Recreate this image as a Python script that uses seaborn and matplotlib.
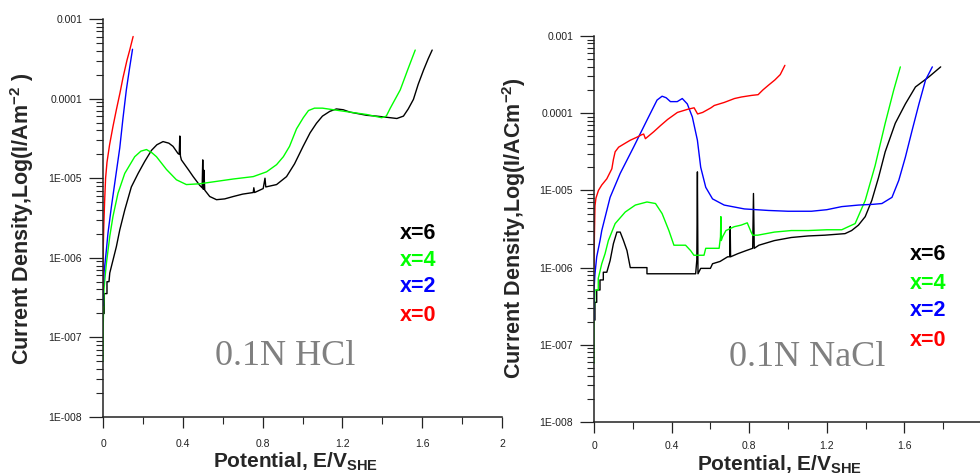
import numpy as np
import pandas as pd
import matplotlib
matplotlib.use("Agg")
import matplotlib.pyplot as plt
import seaborn as sns
from matplotlib.ticker import FixedLocator, LogLocator, NullFormatter

# ---------------- data (potential E in V_SHE, log10 of current density) -------------
# 0.1N HCl
hcl_x0_e = [0.000, 0.001, 0.004, 0.008, 0.013, 0.020, 0.033, 0.050, 0.067, 0.085, 0.100, 0.120, 0.134, 0.151]
hcl_x0_log = [-6.40, -5.90, -5.60, -5.30, -5.00, -4.80, -4.58, -4.35, -4.14, -3.93, -3.74, -3.52, -3.39, -3.22]

hcl_x2_e = [0.000, 0.000, 0.005, 0.017, 0.025, 0.042, 0.059, 0.084, 0.100, 0.117, 0.133, 0.148]
hcl_x2_log = [-6.60, -6.45, -6.19, -5.90, -5.69, -5.36, -5.06, -4.62, -4.25, -3.89, -3.62, -3.38]

hcl_x4_e = [0.000, 0.001, 0.003, 0.005, 0.010, 0.017, 0.034, 0.050, 0.075, 0.109,
            0.159, 0.190, 0.218, 0.245, 0.268, 0.318, 0.368, 0.418, 0.485, 0.569,
            0.653, 0.753, 0.820, 0.870, 0.904, 0.935, 0.970, 1.004, 1.030, 1.060,
            1.100, 1.155, 1.238, 1.322, 1.397, 1.420, 1.440, 1.490, 1.530, 1.565]
hcl_x4_log = [-7.30, -6.90, -6.60, -6.40, -6.25, -6.07, -5.73, -5.48, -5.19, -4.94,
              -4.73, -4.66, -4.64, -4.68, -4.73, -4.89, -5.02, -5.08, -5.07, -5.04,
              -5.01, -4.98, -4.92, -4.83, -4.73, -4.60, -4.38, -4.24, -4.15, -4.12,
              -4.12, -4.14, -4.17, -4.20, -4.24, -4.22, -4.12, -3.89, -3.62, -3.39]

hcl_x6_e = [0.000, 0.006, 0.006, 0.020, 0.020, 0.030, 0.034, 0.050, 0.067, 0.084,
            0.109, 0.142, 0.176, 0.209, 0.243, 0.270, 0.301, 0.330, 0.351, 0.376,
            0.382, 0.385, 0.388, 0.393, 0.430, 0.452, 0.485, 0.497, 0.500, 0.503,
            0.506, 0.510, 0.535, 0.569, 0.610, 0.653, 0.700, 0.753, 0.756, 0.760,
            0.803, 0.812, 0.816, 0.870, 0.920, 0.960, 1.003, 1.038, 1.070, 1.100,
            1.137, 1.170, 1.204, 1.238, 1.280, 1.322, 1.370, 1.406, 1.440, 1.473,
            1.506, 1.530, 1.556, 1.580, 1.607, 1.630, 1.650]
hcl_x6_log = [-6.70, -6.70, -6.45, -6.45, -6.30, -6.30, -6.19, -6.03, -5.86, -5.65,
              -5.40, -5.11, -4.94, -4.79, -4.65, -4.58, -4.54, -4.56, -4.60, -4.69,
              -4.70, -4.47, -4.72, -4.77, -4.90, -4.98, -5.09, -5.12, -4.77, -5.14,
              -4.90, -5.15, -5.23, -5.27, -5.26, -5.23, -5.20, -5.18, -5.12, -5.18,
              -5.13, -5.00, -5.11, -5.08, -4.98, -4.82, -4.60, -4.43, -4.31, -4.22,
              -4.16, -4.13, -4.14, -4.17, -4.19, -4.21, -4.22, -4.23, -4.24, -4.25,
              -4.22, -4.13, -4.01, -3.82, -3.64, -3.50, -3.39]

# 0.1N NaCl
nacl_x0_e = [0.000, 0.002, 0.005, 0.010, 0.023, 0.040, 0.066, 0.092, 0.100, 0.109,
             0.127, 0.160, 0.187, 0.222, 0.245, 0.256, 0.265, 0.308, 0.343, 0.380,
             0.430, 0.482, 0.516, 0.534, 0.560, 0.603, 0.620, 0.672, 0.724, 0.760,
             0.811, 0.846, 0.870, 0.898, 0.932, 0.960, 0.984]
nacl_x0_log = [-6.00, -5.60, -5.20, -5.10, -5.00, -4.93, -4.85, -4.72, -4.60, -4.50,
               -4.44, -4.39, -4.35, -4.31, -4.28, -4.27, -4.33, -4.24, -4.16, -4.08,
               -3.99, -3.95, -3.93, -4.01, -3.99, -3.93, -3.90, -3.86, -3.81, -3.79,
               -3.77, -3.76, -3.70, -3.64, -3.57, -3.50, -3.38]

nacl_x2_e = [0.000, 0.000, 0.005, 0.014, 0.031, 0.040, 0.057, 0.083, 0.135, 0.204,
             0.273, 0.325, 0.351, 0.372, 0.394, 0.429, 0.455, 0.481, 0.507, 0.533,
             0.550, 0.576, 0.611, 0.671, 0.775, 0.900, 1.000, 1.121, 1.200, 1.277,
             1.363, 1.440, 1.484, 1.536, 1.571, 1.605, 1.640, 1.675, 1.709, 1.744]
nacl_x2_log = [-6.68, -6.29, -6.08, -5.86, -5.65, -5.52, -5.35, -5.09, -4.78, -4.44,
               -4.09, -3.83, -3.78, -3.80, -3.85, -3.85, -3.81, -3.88, -4.05, -4.35,
               -4.70, -4.96, -5.11, -5.19, -5.24, -5.26, -5.27, -5.27, -5.25, -5.21,
               -5.19, -5.18, -5.17, -5.09, -4.87, -4.57, -4.22, -3.88, -3.57, -3.40]

nacl_x4_e = [0.000, 0.000, 0.005, 0.022, 0.022, 0.040, 0.057, 0.074, 0.109, 0.161,
             0.213, 0.273, 0.317, 0.351, 0.386, 0.412, 0.472, 0.498, 0.515, 0.567,
             0.576, 0.645, 0.652, 0.654, 0.656, 0.663, 0.680, 0.723, 0.758, 0.790,
             0.810, 0.818, 0.844, 0.930, 1.017, 1.104, 1.200, 1.277, 1.311, 1.346,
             1.398, 1.449, 1.501, 1.545, 1.579]
nacl_x4_log = [-7.24, -6.68, -6.29, -6.29, -6.14, -5.95, -5.82, -5.65, -5.43, -5.28,
               -5.19, -5.15, -5.17, -5.30, -5.52, -5.71, -5.71, -5.78, -5.84, -5.84,
               -5.75, -5.75, -5.60, -5.34, -5.65, -5.60, -5.52, -5.47, -5.45, -5.42,
               -5.54, -5.58, -5.58, -5.54, -5.52, -5.52, -5.51, -5.51, -5.47, -5.43,
               -5.13, -4.68, -4.13, -3.70, -3.40]

nacl_x6_e = [0.000, 0.005, 0.005, 0.014, 0.014, 0.031, 0.031, 0.048, 0.048, 0.066,
             0.083, 0.100, 0.118, 0.135, 0.152, 0.170, 0.187, 0.273, 0.273, 0.524,
             0.530, 0.533, 0.536, 0.550, 0.600, 0.611, 0.650, 0.689, 0.700, 0.702,
             0.704, 0.741, 0.784, 0.818, 0.822, 0.826, 0.850, 0.930, 1.017, 1.104,
             1.190, 1.294, 1.328, 1.363, 1.398, 1.432, 1.467, 1.501, 1.553, 1.605,
             1.657, 1.726, 1.787]
nacl_x6_log = [-6.68, -6.68, -6.45, -6.45, -6.29, -6.29, -6.16, -6.16, -6.06, -6.06,
               -5.91, -5.69, -5.54, -5.54, -5.65, -5.78, -6.00, -6.00, -6.08, -6.08,
               -5.90, -4.76, -6.08, -6.01, -6.01, -5.95, -5.92, -5.86, -5.86, -5.47,
               -5.86, -5.82, -5.78, -5.75, -5.04, -5.75, -5.71, -5.65, -5.61, -5.59,
               -5.58, -5.56, -5.52, -5.45, -5.34, -5.13, -4.83, -4.50, -4.13, -3.88,
               -3.66, -3.53, -3.40]

series_labels = ["x=6", "x=4", "x=2", "x=0"]
series_colors = ["#000000", "#00ff00", "#0000ff", "#ff0000"]
x_ticks = [0, 0.4, 0.8, 1.2, 1.6, 2.0]
x_tick_labels = ["0", "0.4", "0.8", "1.2", "1.6", "2"]
y_ticks = [1e-8, 1e-7, 1e-6, 1e-5, 1e-4, 1e-3]
y_tick_labels = ["1E-008", "1E-007", "1E-006", "1E-005", "0.0001", "0.001"]

# ---------------- style --------------------------------------------------------------
sns.set_style("ticks")
plt.rcParams['font.family'] = ['Liberation Sans', 'DejaVu Sans']
plt.rcParams['mathtext.fontset'] = 'custom'
plt.rcParams['mathtext.rm'] = 'Liberation Sans'
plt.rcParams['mathtext.bf'] = 'Liberation Sans:bold'
plt.rcParams['mathtext.it'] = 'Liberation Sans:italic'

W, H = 980, 475
fig = plt.figure(figsize=(W / 100, H / 100), dpi=100)
fig.patch.set_facecolor("white")


def px_axes(x0, y0, x1, y1):
    return fig.add_axes([x0 / W, 1 - y1 / H, (x1 - x0) / W, (y1 - y0) / H])


panels = [
    dict(rect=(103, 19, 502, 417), xpad=8,
         data=[(hcl_x6_e, hcl_x6_log), (hcl_x4_e, hcl_x4_log), (hcl_x2_e, hcl_x2_log), (hcl_x0_e, hcl_x0_log)],
         ylabel=r"Current Density,Log(I/Am$^{\mathbf{-2}}$ )", ylab_xy=(22, 219),
         xlab_xy=(296, 462), title="0.1N HCl", title_xy=(0.457, 0.151),
         leg_x=0.744, leg_y=[0.462, 0.394, 0.327, 0.256]),
    dict(rect=(594, 36, 982, 422), xpad=5.5,
         data=[(nacl_x6_e, nacl_x6_log), (nacl_x4_e, nacl_x4_log), (nacl_x2_e, nacl_x2_log), (nacl_x0_e, nacl_x0_log)],
         ylabel=r"Current Density,Log(I/ACm$^{\mathbf{-2}}$)", ylab_xy=(514, 228),
         xlab_xy=(780, 465), title="0.1N NaCl", title_xy=(0.549, 0.168),
         leg_x=0.813, leg_y=[0.433, 0.360, 0.290, 0.212]),
]

for p in panels:
    ax = px_axes(*p["rect"])
    ax.set_facecolor("none")
    for (e, lg), lab, col in zip(p["data"], series_labels, series_colors):
        assert len(e) == len(lg), lab
        df = pd.DataFrame({"E": e, "I": 10.0 ** np.asarray(lg)})
        sns.lineplot(data=df, x="E", y="I", ax=ax, color=col, lw=1.0,
                     estimator=None, sort=False, legend=False)
    ax.set_yscale("log")
    ax.set_xlim(0, 2.0)
    ax.set_ylim(1e-8, 1e-3)
    ax.set_xlabel("")
    ax.set_ylabel("")
    ax.xaxis.set_major_locator(FixedLocator(x_ticks))
    ax.set_xticklabels(x_tick_labels)
    ax.xaxis.set_minor_locator(FixedLocator([0.2, 0.6, 1.0, 1.4, 1.8]))
    ax.yaxis.set_major_locator(FixedLocator(y_ticks))
    ax.set_yticklabels(y_tick_labels)
    ax.yaxis.set_minor_locator(LogLocator(base=10, subs=np.arange(2, 10)))
    ax.yaxis.set_minor_formatter(NullFormatter())
    ax.tick_params(axis="y", which="major", direction="out", length=10, width=0.9,
                   pad=5, labelsize=7.5, colors="#222222")
    ax.tick_params(axis="y", which="minor", direction="out", length=5, width=0.8)
    ax.tick_params(axis="x", which="major", direction="out", length=8, width=0.9,
                   pad=p["xpad"], labelsize=7.5, colors="#222222")
    ax.tick_params(axis="x", which="minor", direction="out", length=5, width=0.8)
    for s in ["top", "right"]:
        ax.spines[s].set_visible(False)
    for s in ["left", "bottom"]:
        ax.spines[s].set_color("#222222")
        ax.spines[s].set_linewidth(1.1)

    # legend-like coloured labels
    for lab, col, yy in zip(series_labels, series_colors, p["leg_y"]):
        ax.text(p["leg_x"], yy, lab, transform=ax.transAxes, color=col,
                fontsize=15.5, fontweight="bold", va="center", ha="left")
    # electrolyte annotation
    ax.text(p["title_xy"][0], p["title_xy"][1], p["title"], transform=ax.transAxes,
            color="#808080", fontsize=26, family="Liberation Serif",
            ha="center", va="center")

    # axis labels (positioned in pixels)
    fig.text(p["ylab_xy"][0] / W, 1 - p["ylab_xy"][1] / H, p["ylabel"], rotation=90,
             fontsize=15.5, fontweight="bold", ha="center", va="center")
    fig.text(p["xlab_xy"][0] / W, 1 - p["xlab_xy"][1] / H,
             r"Potential, E/V$_{\mathbf{SHE}}$", fontsize=15, fontweight="bold",
             ha="center", va="center")

fig.savefig("out.png", dpi=100, facecolor="white")
